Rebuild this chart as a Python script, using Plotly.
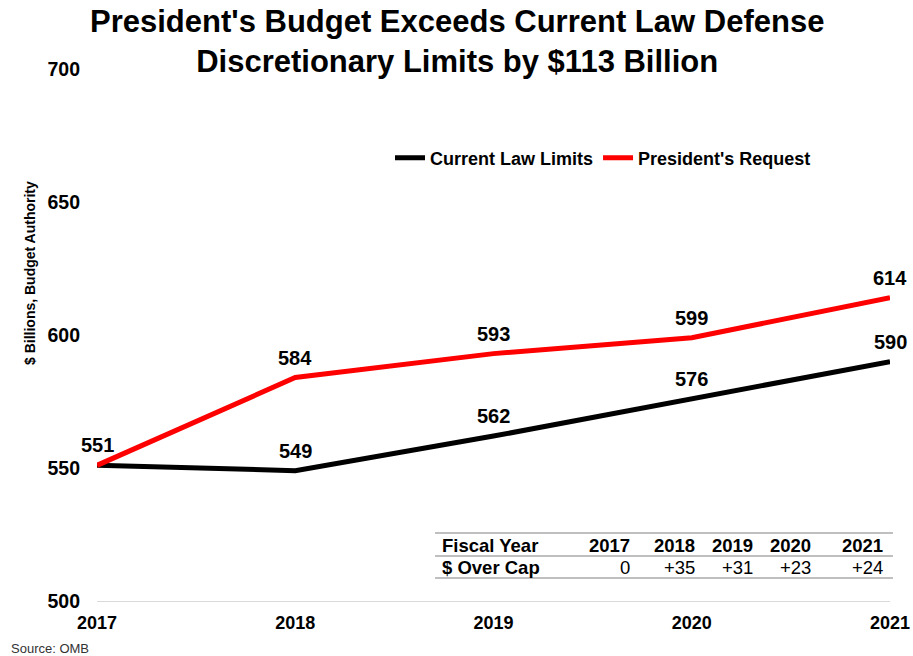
import plotly.graph_objects as go

years = [2017, 2018, 2019, 2020, 2021]
current_law = [551, 549, 562, 576, 590]
presidents_request = [551, 584, 593, 599, 614]
over_cap = ["0", "+35", "+31", "+23", "+24"]
y_ticks = [500, 550, 600, 650, 700]

FONT = "Liberation Sans, Arial, sans-serif"
W, H = 913, 656
L, R, T, B = 97, 23, 69, 55
PW, PH = W - L - R, H - T - B


def xp(px):
    return (px - L) / PW


def yp(py):
    return (H - B - py) / PH


fig = go.Figure()
fig.add_trace(go.Scatter(x=years, y=current_law, mode="lines", name="Current Law Limits",
                         line=dict(color="#000000", width=5)))
fig.add_trace(go.Scatter(x=years, y=presidents_request, mode="lines", name="President's Request",
                         line=dict(color="#FF0000", width=5)))

annotations = []
for x, v in zip(years, current_law):
    annotations.append(dict(x=x, y=v, xref="x", yref="y", text=f"<b>{v}</b>", showarrow=False,
                            yshift=20, font=dict(family=FONT, size=20, color="#000000")))
for i, (x, v) in enumerate(zip(years, presidents_request)):
    if i == 0:
        continue
    annotations.append(dict(x=x, y=v, xref="x", yref="y", text=f"<b>{v}</b>", showarrow=False,
                            yshift=20, font=dict(family=FONT, size=20, color="#000000")))

# title
annotations.append(dict(x=xp(W / 2), y=yp(41), xref="paper", yref="paper",
                        text="<b>President's Budget Exceeds Current Law Defense<br>Discretionary Limits by $113 Billion</b>",
                        showarrow=False, xanchor="center", yanchor="middle",
                        font=dict(family=FONT, size=31, color="#000000")))

# y-axis title
annotations.append(dict(x=xp(30), y=yp(273), xref="paper", yref="paper",
                        text="<b>$ Billions, Budget Authority</b>", textangle=-90,
                        showarrow=False, xanchor="center", yanchor="middle",
                        font=dict(family=FONT, size=14, color="#000000")))

# table
col_right = [632, 697, 755, 813, 885]
row_y = [545, 567]
TF = 18.5
annotations.append(dict(x=xp(440), y=yp(row_y[0]), xref="paper", yref="paper", text="<b>Fiscal Year</b>",
                        showarrow=False, xanchor="left", yanchor="middle",
                        font=dict(family=FONT, size=TF, color="#000000")))
annotations.append(dict(x=xp(440), y=yp(row_y[1]), xref="paper", yref="paper", text="<b>$ Over Cap</b>",
                        showarrow=False, xanchor="left", yanchor="middle",
                        font=dict(family=FONT, size=TF, color="#000000")))
for cx, yr, oc in zip(col_right, years, over_cap):
    annotations.append(dict(x=xp(cx), y=yp(row_y[0]), xref="paper", yref="paper", text=f"<b>{yr}</b>",
                            showarrow=False, xanchor="right", yanchor="middle",
                            font=dict(family=FONT, size=TF, color="#000000")))
    annotations.append(dict(x=xp(cx), y=yp(row_y[1]), xref="paper", yref="paper", text=oc,
                            showarrow=False, xanchor="right", yanchor="middle",
                            font=dict(family=FONT, size=TF, color="#000000")))

annotations.append(dict(x=xp(9), y=yp(648), xref="paper", yref="paper", text="Source: OMB",
                        showarrow=False, xanchor="left", yanchor="middle",
                        font=dict(family=FONT, size=13, color="#333333")))

shapes = []
for ly in [533, 556, 578]:
    shapes.append(dict(type="line", xref="paper", yref="paper", x0=xp(435), x1=xp(893), y0=yp(ly), y1=yp(ly),
                       line=dict(color="#BFBFBF", width=2)))

fig.update_layout(
    width=W, height=H,
    margin=dict(l=L, r=R, t=T, b=B, autoexpand=False),
    paper_bgcolor="white", plot_bgcolor="white",
    legend=dict(orientation="h", x=xp(390), y=yp(158), xanchor="left", yanchor="middle",
                font=dict(family=FONT, size=18, color="#000000", weight="bold"),
                bgcolor="rgba(0,0,0,0)", itemwidth=30, tracegroupgap=0),
    xaxis=dict(range=[2017, 2021], tickvals=years, ticktext=[f"<b>{y}</b>" for y in years],
               showgrid=False, zeroline=False, showline=True, linecolor="#D9D9D9", linewidth=1,
               ticks="", ticklabelstandoff=5,
               tickfont=dict(family=FONT, size=18, color="#000000"), fixedrange=True),
    yaxis=dict(range=[500, 700], tickvals=y_ticks, ticktext=[f"<b>{v}</b>" for v in y_ticks],
               showgrid=False, zeroline=False, showline=False, ticks="",
               ticklabelstandoff=16,
               tickfont=dict(family=FONT, size=19.5, color="#000000")),
    annotations=annotations,
    shapes=shapes,
    showlegend=True,
)

fig.write_html("out.html")
